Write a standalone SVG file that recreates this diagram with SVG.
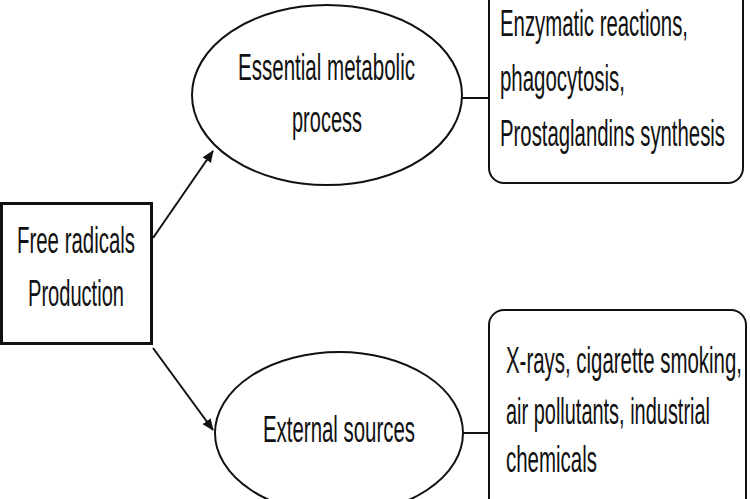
<svg xmlns="http://www.w3.org/2000/svg" width="750" height="499" viewBox="0 0 750 499">
<defs>
<style>
.t{font-family:"Liberation Sans",Arial,sans-serif;font-size:37px;fill:#111}
.n{fill:#fff;stroke:#111;stroke-width:2}
.c{stroke:#111;stroke-width:2;fill:none}
</style>
<marker id="ah" markerWidth="12" markerHeight="10" refX="11" refY="5" orient="auto" markerUnits="userSpaceOnUse">
<path d="M0,0 L12,5 L0,10 Z" fill="#111"/>
</marker>
</defs>
<rect width="750" height="499" fill="#fff"/>
<g id="connectors">
<line class="c" x1="153" y1="238" x2="213" y2="151" marker-end="url(#ah)"/>
<line class="c" x1="153" y1="348" x2="213" y2="430" marker-end="url(#ah)"/>
<line class="c" x1="462" y1="98" x2="489" y2="98"/>
<line class="c" x1="463" y1="433" x2="489" y2="433"/>
</g>
<g id="free-radicals">
<rect x="1.5" y="203.5" width="150" height="140" fill="#fff" stroke="#111" stroke-width="3"/>
<text class="t" x="17" y="253" textLength="118" lengthAdjust="spacingAndGlyphs">Free radicals</text>
<text class="t" x="28" y="306" textLength="96" lengthAdjust="spacingAndGlyphs">Production</text>
</g>
<g id="essential">
<ellipse class="n" cx="327" cy="95" rx="135" ry="90"/>
<text class="t" x="238" y="80" textLength="177" lengthAdjust="spacingAndGlyphs">Essential metabolic</text>
<text class="t" x="292" y="132" textLength="70" lengthAdjust="spacingAndGlyphs">process</text>
</g>
<g id="external">
<ellipse class="n" cx="339" cy="433" rx="124" ry="81"/>
<text class="t" x="263" y="442" textLength="152" lengthAdjust="spacingAndGlyphs">External sources</text>
</g>
<g id="metabolic-examples">
<rect class="n" x="489" y="-20" width="254" height="203" rx="15"/>
<text class="t" x="500" y="36" textLength="188" lengthAdjust="spacingAndGlyphs">Enzymatic reactions,</text>
<text class="t" x="500" y="91" textLength="125" lengthAdjust="spacingAndGlyphs">phagocytosis,</text>
<text class="t" x="500" y="146" textLength="225" lengthAdjust="spacingAndGlyphs">Prostaglandins synthesis</text>
</g>
<g id="external-examples">
<rect class="n" x="489" y="310" width="257" height="220" rx="15"/>
<text class="t" x="506" y="373" textLength="236" lengthAdjust="spacingAndGlyphs">X-rays, cigarette smoking,</text>
<text class="t" x="506" y="424" textLength="204" lengthAdjust="spacingAndGlyphs">air pollutants, industrial</text>
<text class="t" x="506" y="472" textLength="91" lengthAdjust="spacingAndGlyphs">chemicals</text>
</g>
</svg>
